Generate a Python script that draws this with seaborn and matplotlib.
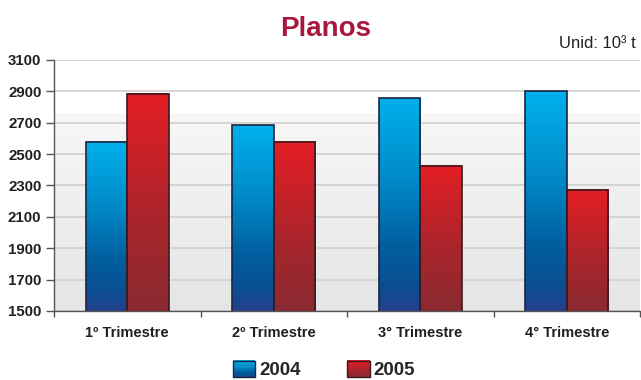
import numpy as np
import pandas as pd
import matplotlib
matplotlib.use("Agg")
import matplotlib.pyplot as plt
import seaborn as sns
from matplotlib.colors import LinearSegmentedColormap
from matplotlib.patches import Rectangle
from matplotlib.legend_handler import HandlerBase

# ---- data ----
quarters = ["1º Trimestre", "2º Trimestre", "3° Trimestre", "4° Trimestre"]
years = ["2004", "2005"]
values_2004 = [2580, 2685, 2855, 2900]
values_2005 = [2885, 2580, 2425, 2272]
y_ticks = [1500, 1700, 1900, 2100, 2300, 2500, 2700, 2900, 3100]
title_text = "Planos"
unit_text = "Unid: 10³ t"

df = pd.DataFrame({
    "Trimestre": quarters * 2,
    "Ano": [years[0]] * 4 + [years[1]] * 4,
    "Valor": values_2004 + values_2005,
})

# ---- styles ----
blue_cmap = LinearSegmentedColormap.from_list(
    "blue", [(0.0, "#24408c"), (0.12, "#0a4f92"), (0.3, "#005e9f"),
             (0.6, "#0088c6"), (1.0, "#00b0ec")])
red_cmap = LinearSegmentedColormap.from_list(
    "red", [(0.0, "#8a2a31"), (0.4, "#a8252c"), (1.0, "#e41e25")])
cmaps = {years[0]: blue_cmap, years[1]: red_cmap}
edges = {years[0]: "#1c2540", years[1]: "#3a1a1e"}

sns.set_theme(style="white")
plt.rcParams["font.family"] = ["Liberation Sans", "DejaVu Sans"]

fig = plt.figure(figsize=(6.41, 3.80), dpi=100)
ax = fig.add_axes([54 / 641, 1 - 311 / 380, 586 / 641, 251 / 380])

# background gradient of plot area
bg = LinearSegmentedColormap.from_list(
    "bg", [(0.0, "#e4e5e6"), (0.789, "#f7f7f6"), (0.7891, "#ffffff"), (1.0, "#ffffff")])
grad = np.linspace(0, 1, 400).reshape(-1, 1)
ax.imshow(grad, cmap=bg, aspect="auto", origin="lower",
          extent=[0, 1, 0, 1], transform=ax.transAxes, zorder=0)

sns.barplot(data=df, x="Trimestre", y="Valor", hue="Ano", order=quarters,
            hue_order=years, width=0.567, gap=0, palette=["#0088c6", "#c8232a"],
            ax=ax, legend=False, zorder=3)

y_bottom, y_top = y_ticks[0], y_ticks[-1]
ax.set_ylim(y_bottom, y_top)
ax.set_xlim(-0.5, 3.5)

# gradient fill of bars (visible part only, from axis floor to bar top)
for cont, yr in zip(ax.containers, years):
    for patch in cont.patches:
        x0 = patch.get_x()
        w = patch.get_width()
        top = patch.get_y() + patch.get_height()
        im = ax.imshow(grad, cmap=cmaps[yr], aspect="auto", origin="lower",
                       extent=[x0, x0 + w, y_bottom, top], zorder=3)
        im.set_clip_box(ax.bbox)
        patch.set_facecolor("none")
        patch.set_edgecolor(edges[yr])
        patch.set_linewidth(1.2)
        patch.set_zorder(4)

ax.set_ylim(y_bottom, y_top)
ax.set_xlim(-0.5, 3.5)

# grid / axes
ax.set_yticks(y_ticks)
ax.yaxis.grid(True, color="#d2d2d2", linewidth=1.3, zorder=1)
ax.set_axisbelow(True)
for s in ["top", "right"]:
    ax.spines[s].set_visible(False)
for s in ["left", "bottom"]:
    ax.spines[s].set_color("#555555")
    ax.spines[s].set_linewidth(1.0)
ax.spines["bottom"].set_zorder(5)
ax.set_xlabel("")
ax.set_ylabel("")
ax.set_xticks(range(len(quarters)))
ax.set_xticklabels(quarters)
ax.set_xticks(np.arange(-0.5, len(quarters), 1.0), minor=True)
ax.tick_params(axis="x", which="major", length=0, pad=11, labelsize=10.5,
               labelcolor="#231f20")
ax.tick_params(axis="x", which="minor", length=4, width=1, color="#555555",
               direction="out", bottom=True)
ax.tick_params(axis="y", length=6, width=1, color="#555555", direction="out",
               left=True, labelsize=10.8, labelcolor="#231f20", pad=3)
for lbl in ax.get_xticklabels() + ax.get_yticklabels():
    lbl.set_fontweight("bold")

# title and unit
fig.text(326 / 641, 1 - 29 / 380, title_text, ha="center", va="center",
         fontsize=20, fontweight="bold", color="#a8183e")
fig.text(559 / 641, 1 - 44 / 380, unit_text, ha="left", va="center",
         fontsize=12, color="#231f20")


# legend with gradient handles
class GradHandler(HandlerBase):
    def __init__(self, cmap, edge):
        super().__init__()
        self.cmap = cmap
        self.edge = edge

    def create_artists(self, legend, orig_handle, xdescent, ydescent, width,
                       height, fontsize, trans):
        arts = []
        n = 14
        for i in range(n):
            r = Rectangle((-xdescent, -ydescent + height * i / n), width,
                          height / n + 0.3, facecolor=self.cmap((i + 0.5) / n),
                          edgecolor="none", transform=trans)
            arts.append(r)
        arts.append(Rectangle((-xdescent, -ydescent), width, height,
                              facecolor="none", edgecolor=self.edge,
                              linewidth=1.0, transform=trans))
        return arts


h1 = Rectangle((0, 0), 1, 1)
h2 = Rectangle((0, 0), 1, 1)
fig.legend([h1, h2], years, loc="center", bbox_to_anchor=(324 / 641, 1 - 370 / 380),
           ncol=2, frameon=False, handlelength=1.2, handleheight=0.95,
           handletextpad=0.2, columnspacing=2.5,
           prop={"weight": "bold", "size": 13.5, "family": ["Liberation Sans", "DejaVu Sans"]},
           handler_map={h1: GradHandler(blue_cmap, edges[years[0]]),
                        h2: GradHandler(red_cmap, edges[years[1]])})

fig.savefig("out.png", dpi=100)
